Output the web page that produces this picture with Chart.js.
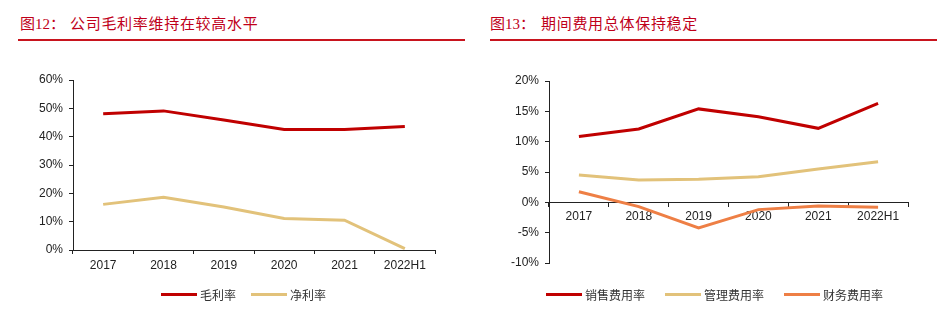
<!DOCTYPE html>
<html>
<head>
<meta charset="utf-8">
<script src="https://cdn.jsdelivr.net/npm/chart.js@4"></script>
<style>
  body { margin: 0; background: #fff; width: 941px; height: 322px; position: relative; overflow: hidden; }
  .title { position: absolute; top: 12px; font: 15px "Liberation Serif", "Noto Sans CJK SC", serif; color: #c0001a; white-space: nowrap; }
  .title .txt { position: absolute; letter-spacing: 0.7px; font-family: "Noto Sans CJK SC", sans-serif; }
  .rule { position: absolute; top: 39px; height: 2px; background: #c8141e; }
  .box { position: absolute; }
  .legend { position: absolute; top: 286px; display: flex; align-items: center; font: 12px "Noto Sans CJK SC", sans-serif; color: #333; }
  .legend .item { display: flex; align-items: center; }
  .legend .sw { width: 36px; height: 3px; margin-right: 3px; }
</style>
</head>
<body>
<div class="title" style="left:20px">图12：<span class="txt" style="left:50px;top:0">公司毛利率维持在较高水平</span></div>
<div class="rule" style="left:18px;width:447px"></div>
<div class="title" style="left:490px">图13：<span class="txt" style="left:51px;top:0">期间费用总体保持稳定</span></div>
<div class="rule" style="left:490px;width:447px"></div>

<div class="box" style="left:0;top:50px"><canvas id="margin_chart" width="470" height="240"></canvas></div>
<div class="box" style="left:470px;top:50px"><canvas id="expense_chart" width="471" height="230"></canvas></div>
<div class="legend" id="margin_legend" style="left:161px"></div>
<div class="legend" id="expense_legend" style="left:546px"></div>

<script>
const years = ["2017", "2018", "2019", "2020", "2021", "2022H1"];

// 图12 毛利率 / 净利率 (%)
const grossMargin = [48.1, 49.1, 45.9, 42.5, 42.5, 43.6];
const netMargin = [16.1, 18.6, 15.2, 11.1, 10.5, 0.5];
const marginTicks = [0, 10, 20, 30, 40, 50, 60];

// 图13 期间费用率 (%)
const sellingRate = [10.85, 12.1, 15.4, 14.1, 12.2, 16.3];
const adminRate = [4.5, 3.7, 3.8, 4.2, 5.5, 6.7];
const financeRate = [1.75, -0.7, -4.2, -1.2, -0.6, -0.8];
const expenseTicks = [-10, -5, 0, 5, 10, 15, 20];

const RED = '#c00000';
const TAN = '#e2c27a';
const ORANGE = '#ee7f45';

const tickFont = { family: 'Liberation Sans, Arial, sans-serif', size: 12 };

function line(label, data, color) {
    return {
        label: label,
        data: data,
        borderColor: color,
        backgroundColor: color,
        borderWidth: 3,
        pointRadius: 0,
        tension: 0
    }
}

function yScale(ticks, width) {
    return {
        min: ticks[0],
        max: ticks[ticks.length - 1],
        afterBuildTicks: axis => { axis.ticks = ticks.map(v => ({ value: v })) },
        afterFit: axis => { axis.width = width },
        border: { display: true, color: '#222', width: 1 },
        grid: { display: true, drawOnChartArea: false, drawTicks: true, tickLength: 4, color: '#222' },
        ticks: { font: tickFont, color: '#222', padding: 6, callback: v => v + '%' }
    }
}

function xScale(height, pad, extra) {
    return Object.assign({
        offset: true,
        afterFit: axis => { axis.height = height },
        border: { display: true, color: '#222', width: 1 },
        grid: { display: true, offset: true, drawOnChartArea: false, drawTicks: true, tickLength: 4, color: '#222' },
        ticks: { font: tickFont, color: '#222', padding: pad, maxRotation: 0 }
    }, extra || {})
}

new Chart(document.querySelector('#margin_chart'), {
    type: 'line',
    data: {
        labels: years,
        datasets: [line('毛利率', grossMargin, RED), line('净利率', netMargin, TAN)]
    },
    options: {
        responsive: false,
        animation: false,
        devicePixelRatio: 1,
        layout: { padding: { left: 10, right: 35, top: 30, bottom: 10 } },
        plugins: { legend: { display: false }, tooltip: { enabled: false } },
        scales: {
            x: xScale(30, 4),
            y: yScale(marginTicks, 63)
        }
    }
})

new Chart(document.querySelector('#expense_chart'), {
    type: 'line',
    data: {
        labels: years,
        datasets: [
            line('销售费用率', sellingRate, RED),
            line('管理费用率', adminRate, TAN),
            line('财务费用率', financeRate, ORANGE)
        ]
    },
    options: {
        responsive: false,
        animation: false,
        devicePixelRatio: 1,
        layout: { padding: { left: 10, right: 33, top: 31, bottom: 17 } },
        plugins: { legend: { display: false }, tooltip: { enabled: false } },
        scales: {
            x: xScale(0, 3, { position: { y: 0 } }),
            y: yScale(expenseTicks, 69)
        }
    }
})

// legends under each chart
function buildLegend(el, names, colors, gap) {
    names.forEach((name, i) => {
        const item = document.createElement('div')
        item.className = 'item'
        if (i > 0) item.style.marginLeft = gap + 'px'
        item.innerHTML = '<span class="sw" style="background:' + colors[i] + '"></span><span>' + name + '</span>'
        el.appendChild(item)
    })
}
buildLegend(document.querySelector('#margin_legend'), ['毛利率', '净利率'], [RED, TAN], 15)
buildLegend(document.querySelector('#expense_legend'), ['销售费用率', '管理费用率', '财务费用率'], [RED, TAN, ORANGE], 20)
</script>
</body>
</html>
